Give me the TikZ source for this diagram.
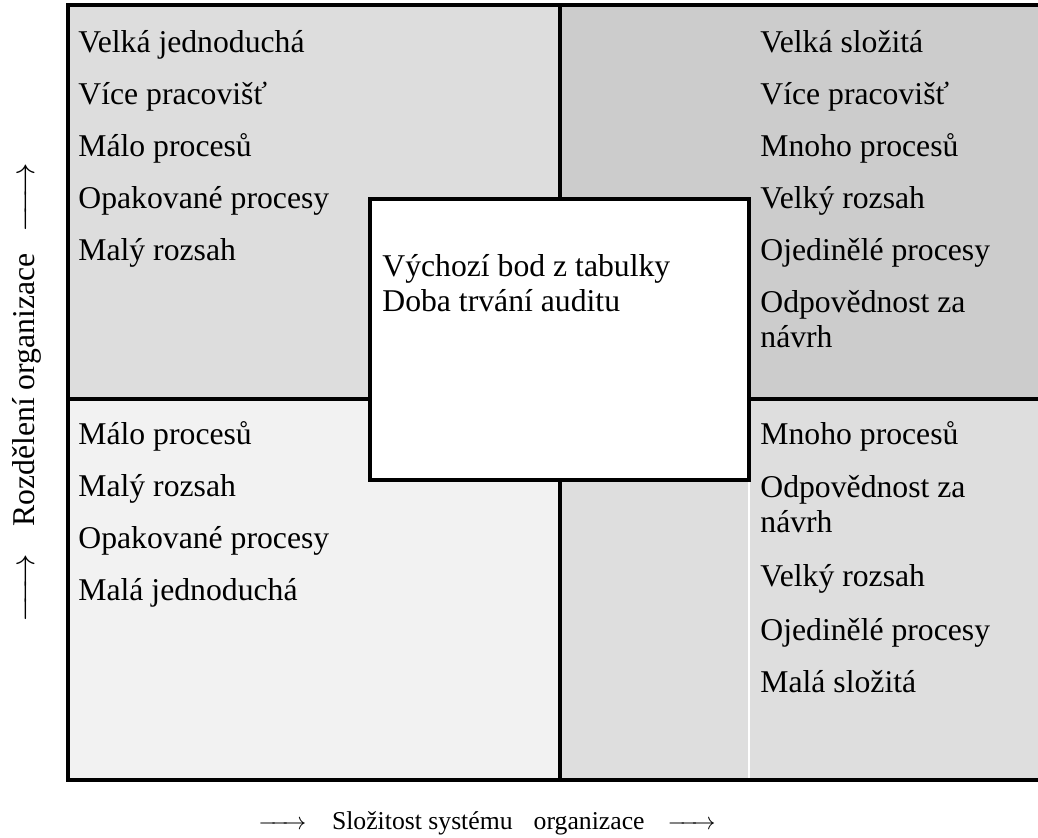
\documentclass[tikz,border=0pt]{standalone}
\usepackage{fontspec}
\setmainfont{Liberation Serif}
\usetikzlibrary{positioning}

\definecolor{tlgray}{HTML}{DDDDDD}
\definecolor{trgray}{HTML}{CCCCCC}
\definecolor{blgray}{HTML}{F2F2F2}
\definecolor{brgray}{HTML}{DEDEDE}
\newcommand{\axisarr}{\ensuremath{\relbar\mkern-5mu\relbar\mkern-5mu\rightarrow}}

\begin{document}
\begin{tikzpicture}[x=0.5pt,y=-0.5pt,
  item/.style={anchor=base west,inner sep=0pt,font=\fontsize{15.85}{17.5}\selectfont},
  axis/.style={anchor=base,inner sep=0pt},
  rule/.style={line width=1.6pt}]
  \useasboundingbox (0,0) rectangle (1038,838);

  \fill[tlgray] (68,5) rectangle (560,399);
  \fill[trgray] (560,5) rectangle (1040,399);
  \fill[blgray] (68,399) rectangle (560,780);
  \fill[brgray] (560,399) rectangle (1040,780);
  \draw[white,line width=1pt] (749,480) -- (749,780);
  \draw[rule] (1040,5) -- (68,5) -- (68,780) -- (1040,780);
  \draw[rule] (560,5) -- (560,780) (68,399) -- (1040,399);
  \draw[rule,fill=white] (370,199) rectangle (749,480);

  \foreach \t/\y [count=\i] in {Velká jednoduchá/53,Více pracovišť/105,Málo procesů/157,
      Opakované procesy/209,Malý rozsah/261}
    \node[item] (tl\i) at (78,\y) {\t};
  \foreach \t/\y [count=\i] in {Velká složitá/53,Více pracovišť/105,Mnoho procesů/157,
      Velký rozsah/209,Ojedinělé procesy/261,Odpovědnost za/313,návrh/348}
    \node[item] (tr\i) at (760,\y) {\t};
  \foreach \t/\y [count=\i] in {Málo procesů/445,Malý rozsah/497,Opakované procesy/549,
      Malá jednoduchá/601}
    \node[item] (bl\i) at (78,\y) {\t};
  \foreach \t/\y [count=\i] in {Mnoho procesů/445,Odpovědnost za/498,návrh/533,
      Velký rozsah/587,Ojedinělé procesy/640,Malá složitá/692}
    \node[item] (br\i) at (760,\y) {\t};

  \node[item] (start) at (382,277) {Výchozí bod z tabulky};
  \node[item] (span) at (382,312) {Doba trvání auditu};

  \node[axis,font=\fontsize{12.85}{15}\selectfont] (xlab) at (487,829)
    {\axisarr\hspace{1em}Složitost systému\hspace{0.82em}organizace\hspace{0.9em}\axisarr};
  \node[axis,rotate=90,font=\fontsize{15.85}{17.5}\selectfont] (ylab) at (34,393)
    {\axisarr\hspace{0.85em}Rozdělení organizace\hspace{0.66em}\axisarr};
\end{tikzpicture}
\end{document}
